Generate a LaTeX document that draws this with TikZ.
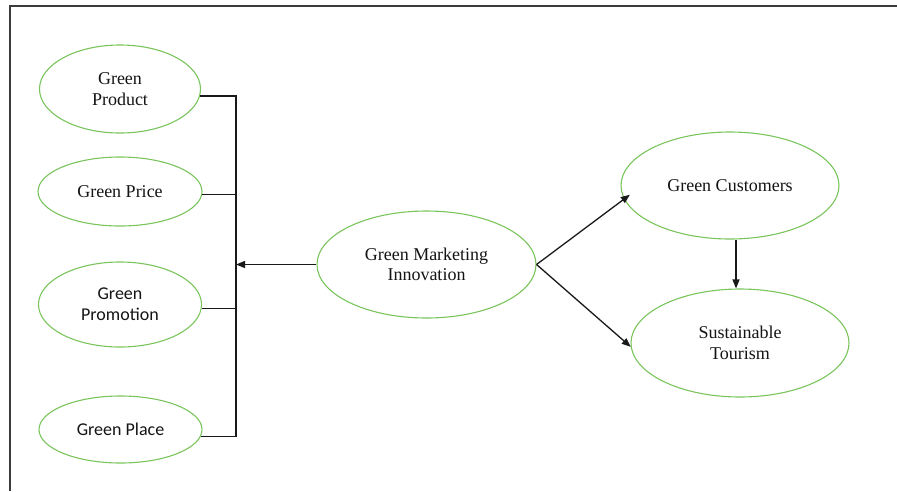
\documentclass[tikz,border=0pt]{standalone}
\usepackage{fontspec}
\setmainfont{Liberation Serif}
\newfontfamily\tnr{Liberation Serif}
\newfontfamily\calib{Carlito}
\usetikzlibrary{shapes.geometric,arrows.meta}
\definecolor{ellgreen}{RGB}{122,196,92}
\definecolor{framegray}{RGB}{60,60,60}
\definecolor{txt}{RGB}{20,20,20}
\tikzset{
  oval/.style={ellipse,draw=ellgreen,line width=1.1pt,inner sep=0pt,align=center,
    font=\tnr\fontsize{18pt}{20.5pt}\selectfont,text=txt},
  sansoval/.style={oval,font=\calib\fontsize{18pt}{21pt}\selectfont},
  conn/.style={draw=black!90,line width=1.3pt},
  arr/.style={conn,-{Triangle[length=9pt,width=7pt]}},
  framestyle/.style={draw=framegray,line width=2pt}
}
\begin{document}
\begin{tikzpicture}[x=1pt,y=-1pt]
\useasboundingbox (0,0) rectangle (897,491);
\draw[framestyle] (10,491) -- (10,6) -- (897,6);
\node[oval,minimum width=161pt,minimum height=88pt] (prod) at (120,89) {Green\\Product};
\node[oval,minimum width=164pt,minimum height=69pt] (price) at (120,191.5) {Green Price};
\node[sansoval,minimum width=163pt,minimum height=85pt] (promo) at (120,304.5) {Green\\Promotion};
\node[sansoval,minimum width=163pt,minimum height=67pt] (place) at (120.5,429.5) {Green Place};
\node[oval,minimum width=219pt,minimum height=107pt] (gmi) at (426.5,264.5) {Green Marketing\\Innovation};
\node[oval,minimum width=218pt,minimum height=107pt] (gc) at (730,185.5) {Green Customers};
\node[oval,minimum width=218pt,minimum height=108pt] (st) at (740,343) {Sustainable\\Tourism};
\coordinate (bus) at (236,0);
\coordinate (vx) at (736,0);
\draw[conn] (prod.-5) -| (place.-5 -| bus) -- (place.-5);
\draw[conn] (price.-2) -- (price.-2 -| bus);
\draw[conn] (promo.-3.5) -- (promo.-3.5 -| bus);
\draw[arr] (gmi.west) -- (gmi.west -| bus);
\draw[arr] (gmi.east) -- ([shift={(7pt,2pt)}]gc.186);
\draw[arr] (gmi.east) -- (st.182);
\draw[arr] (vx |- gc.south) -- (vx |- st.north);
\end{tikzpicture}
\end{document}
